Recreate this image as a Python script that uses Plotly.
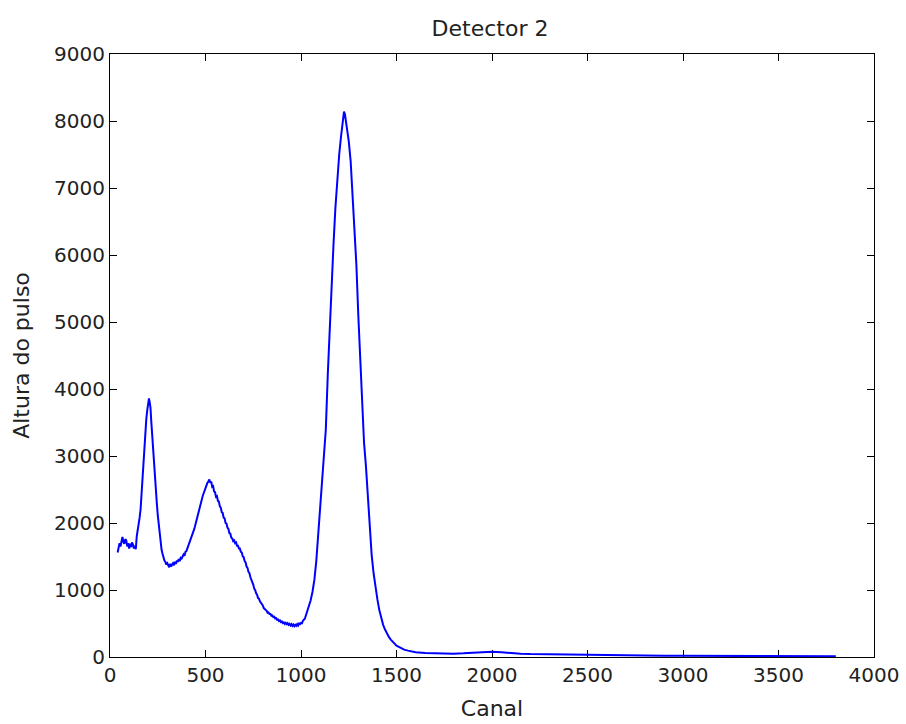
import plotly.graph_objects as go

canal = [40, 45, 50, 55, 60, 65, 70, 75, 80, 85, 90, 95, 100, 105, 110, 115, 120, 125, 130, 135, 140,
         145, 150, 155, 160, 165, 170, 175, 180, 185, 190, 195, 200, 204, 208, 212, 216, 220, 225, 230,
         235, 240, 245, 250, 255, 260, 265, 270, 275, 280, 285, 290, 295, 300, 305, 310, 315, 320, 325,
         330, 335, 340, 345, 350, 355, 360, 365, 370, 375, 380, 385, 390, 395, 400, 405, 410, 415, 420,
         425, 430, 435, 440, 445, 450, 455, 460, 465, 470, 475, 480, 485, 490, 495, 500, 505, 510, 515,
         520, 525, 530, 535, 540, 545, 550, 555, 560, 565, 570, 575, 580, 585, 590, 595, 600, 605, 610,
         615, 620, 625, 630, 635, 640, 645, 650, 655, 660, 665, 670, 675, 680, 685, 690, 695, 700, 705,
         710, 715, 720, 725, 730, 735, 740, 745, 750, 755, 760, 765, 770, 775, 780, 785, 790, 795, 800,
         805, 810, 815, 820, 825, 830, 835, 840, 845, 850, 855, 860, 865, 870, 875, 880, 885, 890, 895,
         900, 905, 910, 915, 920, 925, 930, 935, 940, 945, 950, 955, 960, 965, 970, 975, 980, 985, 990,
         995, 1000, 1005, 1010, 1020, 1030, 1040, 1050, 1060, 1070,
         1080, 1090, 1100, 1110, 1120, 1130, 1140, 1150, 1160, 1170, 1180, 1190, 1200, 1210, 1215, 1220,
         1225, 1230, 1235, 1240, 1250, 1260, 1270, 1280, 1290, 1300, 1310, 1320, 1330, 1340, 1350, 1360,
         1370, 1380, 1390, 1400, 1410, 1420, 1430, 1440, 1450, 1460, 1470, 1480, 1490, 1500, 1520, 1540,
         1560, 1580, 1600, 1650, 1700, 1750, 1800, 1850, 1900, 1950, 2000, 2050, 2100, 2150, 2200, 2300,
         2400, 2500, 2600, 2700, 2800, 2900, 3000, 3100, 3200, 3300, 3400, 3500, 3600, 3700, 3800]

altura = [1560, 1640, 1700, 1650, 1760, 1790, 1720, 1690, 1760, 1740, 1650, 1700, 1620, 1690, 1640, 1710, 1680, 1620, 1660, 1610, 1800,
          1880, 1970, 2080, 2200, 2420, 2650, 2950, 3200, 3450, 3550, 3680, 3780, 3860, 3800, 3720, 3520, 3330, 3120, 2940,
          2700, 2500, 2300, 2120, 1960, 1830, 1700, 1600, 1540, 1480, 1440, 1420, 1380, 1400, 1360, 1340, 1390, 1350, 1380,
          1400, 1370, 1420, 1390, 1440, 1420, 1460, 1430, 1480, 1470, 1500, 1530, 1510, 1570, 1580, 1620, 1640, 1680, 1720,
          1760, 1790, 1850, 1900, 1950, 2010, 2070, 2140, 2200, 2260, 2310, 2360, 2400, 2440, 2490, 2520, 2560, 2600, 2620,
          2650, 2600, 2620, 2540, 2550, 2470, 2460, 2390, 2400, 2330, 2320, 2250, 2230, 2160, 2150, 2080, 2070, 2000, 1990,
          1930, 1910, 1850, 1840, 1780, 1770, 1730, 1740, 1700, 1710, 1660, 1660, 1620, 1620, 1570, 1560, 1500, 1490, 1430,
          1410, 1350, 1330, 1270, 1250, 1190, 1160, 1110, 1080, 1020, 1000, 950, 930, 880, 870, 830, 810, 780, 770,
          730, 720, 700, 690, 660, 665, 640, 640, 615, 620, 595, 600, 575, 580, 555, 560, 535, 545, 520,
          530, 505, 515, 495, 510, 490, 505, 480, 495, 470, 490, 465, 485, 460, 480, 465, 490, 470, 500,
          490, 510, 505, 540, 570, 650, 740, 840, 970, 1150,
          1430, 1830, 2200, 2600, 3050, 3400, 4200, 4900, 5550, 6150, 6700, 7150, 7500, 7780, 7900, 8050,
          8140, 8100, 8000, 7900, 7700, 7400, 6900, 6300, 5850, 5100, 4400, 3750, 3200, 2850, 2430, 1900,
          1520, 1250, 1020, 860, 700, 570, 480, 410, 350, 300, 260, 230, 200, 170, 140, 110,
          95, 80, 70, 60, 55, 55, 50, 55, 65, 75, 80, 70, 55, 50, 45, 40,
          35, 30, 28, 25, 22, 20, 18, 17, 15, 14, 13, 12, 11, 10, 10]

x_ticks = [0, 500, 1000, 1500, 2000, 2500, 3000, 3500, 4000]
y_ticks = [0, 1000, 2000, 3000, 4000, 5000, 6000, 7000, 8000, 9000]

FONT = "DejaVu Sans"
TXT = "#222222"

fig = go.Figure()
fig.add_trace(go.Scatter(x=canal, y=altura, mode="lines",
                         line=dict(color="#0000FF", width=2), showlegend=False))

axis_common = dict(showline=True, linecolor="black", linewidth=1, mirror="ticks",
                   ticks="inside", ticklen=7, tickcolor="black", tickwidth=1,
                   showgrid=False, zeroline=False, layer="below traces", automargin=False,
                   tickfont=dict(family=FONT, size=20, color=TXT))

fig.update_layout(
    width=906, height=724,
    margin=dict(l=110, r=32, t=54, b=67),
    paper_bgcolor="white", plot_bgcolor="white",
    title=dict(text="Detector 2", x=490 / 906, xanchor="center",
               y=1 - 28 / 724, yanchor="middle", yref="container",
               font=dict(family=FONT, size=22, color=TXT)),
    xaxis=dict(range=[0, 4000], tickvals=x_ticks, ticktext=[str(v) for v in x_ticks],
               title=dict(text="Canal", standoff=14, font=dict(family=FONT, size=22, color=TXT)),
               **axis_common),
    yaxis=dict(range=[0, 9000], tickvals=y_ticks, ticktext=[str(v) for v in y_ticks],
               title=dict(text="Altura do pulso", standoff=18, font=dict(family=FONT, size=22, color=TXT)),
               **axis_common),
)

fig.write_html("out.html")
